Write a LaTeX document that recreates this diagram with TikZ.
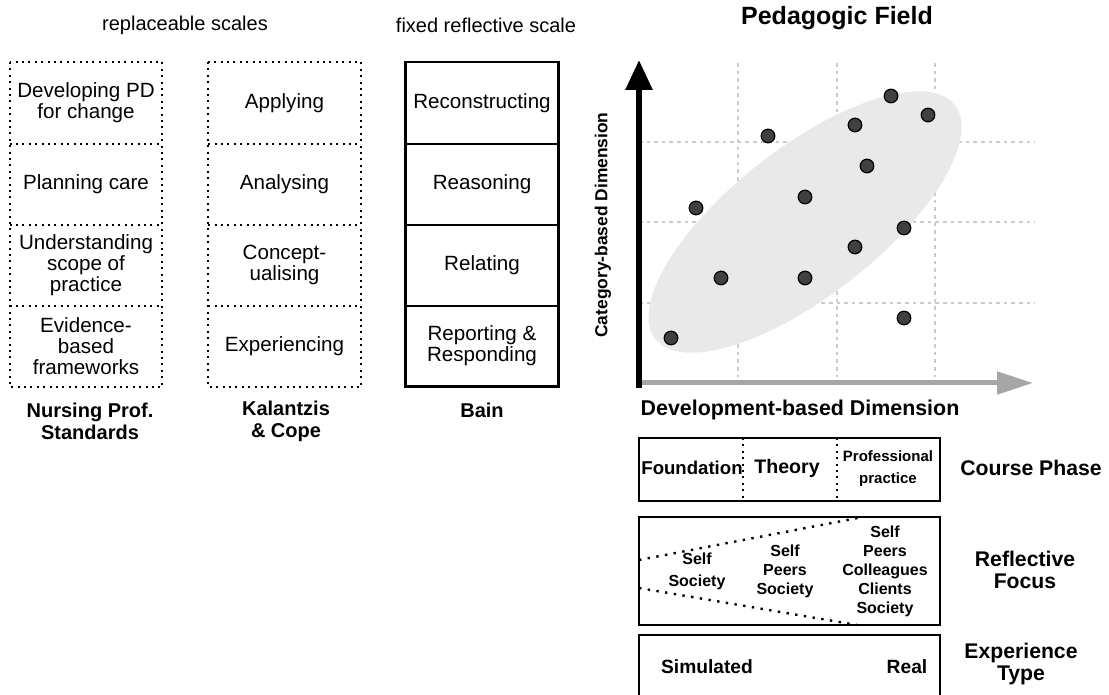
\documentclass[tikz,border=0pt]{standalone}
\usepackage{fontspec}
\setmainfont{Liberation Sans}
\usetikzlibrary{arrows.meta,shapes.geometric}

\begin{document}
\begin{tikzpicture}[x=0.5pt,y=-0.5pt,
    cell/.style={inner sep=0pt,minimum width=76pt,minimum height=40.5pt,align=center,font=\fontsize{10.3}{10.4}\selectfont},
    dotline/.style={line width=1pt,dash pattern=on 1pt off 2.2pt},
    fixedline/.style={line width=1.2pt},
    caption/.style={align=center,font=\fontsize{10}{11}\selectfont\bfseries},
    side/.style={align=center,font=\fontsize{10.6}{11}\selectfont\bfseries},
    band/.style={draw,line width=1.1pt,inner sep=0pt,minimum width=150.5pt},
    bandtext/.style={align=center,inner sep=0pt,font=\fontsize{8}{9.5}\selectfont\bfseries},
    dot/.style={circle,draw=black,fill=black!75,line width=0.6pt,inner sep=0pt,minimum size=6.8pt},
    gridline/.style={gray!40,line width=1pt,dash pattern=on 1.8pt off 2pt}]
  \useasboundingbox (0,0) rectangle (1109,695);
  \draw
    (185,25) node[font=\fontsize{10}{11}\selectfont] (replhead){replaceable scales}
    (486,25) node[font=\fontsize{10}{11}\selectfont] (fixhead){fixed reflective scale};
  \draw
    (86,103) node[cell] (nps1){Developing PD\\for change}
    (86,184) node[cell] (nps2){Planning care}
    (86,265) node[cell] (nps3){Understanding\\scope of\\practice}
    (86,346) node[cell] (nps4){Evidence-\\based\\frameworks}
    (284.5,103) node[cell] (kc1){Applying}
    (284.5,184) node[cell] (kc2){Analysing}
    (284.5,265) node[cell] (kc3){Concept-\\ualising}
    (284.5,346) node[cell] (kc4){Experiencing}
    (482,103) node[cell] (bain1){Reconstructing}
    (482,184) node[cell] (bain2){Reasoning}
    (482,265) node[cell] (bain3){Relating}
    (482,346) node[cell] (bain4){Reporting \&\\Responding};
  \begin{scope}[dotline]
    \draw (nps1.north west) rectangle (nps4.south east);
    \draw (nps1.south west) -- (nps1.south east);
    \draw (nps2.south west) -- (nps2.south east);
    \draw (nps3.south west) -- (nps3.south east);
    \draw (kc1.north west) rectangle (kc4.south east);
    \draw (kc1.south west) -- (kc1.south east);
    \draw (kc2.south west) -- (kc2.south east);
    \draw (kc3.south west) -- (kc3.south east);
  \end{scope}
  \begin{scope}[fixedline]
    \draw[line width=1.4pt] (bain1.north west) rectangle (bain4.south east);
    \draw (bain1.south west) -- (bain1.south east);
    \draw (bain2.south west) -- (bain2.south east);
    \draw (bain3.south west) -- (bain3.south east);
  \end{scope}
  \draw
    (90,421) node[caption] (npscap){Nursing Prof.\\Standards}
    (286,421) node[caption] (kccap){Kalantzis\\\& Cope}
    (482,410) node[caption] (baincap){Bain};
  \node[font=\fontsize{12.5}{13}\selectfont\bfseries] (fieldhead) at (837,18) {Pedagogic Field};
  \draw[gridline]
    (738,63) -- (738,377) (837,63) -- (837,377) (935,63) -- (935,377)
    (639,142) -- (1035,142) (639,222) -- (1035,222) (639,303) -- (1035,303);
  \node[ellipse,fill=gray!17,minimum width=190pt,minimum height=74pt,rotate=38] (cloud) at (805,222) {};
  \coordinate (origin) at (639,383);
  \coordinate (ybase) at (639,388);
  \coordinate (ytip) at (639,60);
  \coordinate (xtip) at (1033,383);
  \draw[gray!70,line width=2.5pt,-{Triangle[length=18pt,width=11pt]}] (origin) -- (xtip);
  \draw[black,line width=3pt,-{Triangle[length=15pt,width=13pt]}] (ybase) -- (ytip);
  \draw
    (891,96) node[dot] (p1){}
    (928,115) node[dot] (p2){}
    (855,125) node[dot] (p3){}
    (768,136) node[dot] (p4){}
    (867,166) node[dot] (p5){}
    (805,197) node[dot] (p6){}
    (696,208) node[dot] (p7){}
    (904,228) node[dot] (p8){}
    (855,247) node[dot] (p9){}
    (721,278) node[dot] (p10){}
    (805,278) node[dot] (p11){}
    (904,318) node[dot] (p12){}
    (671,338) node[dot] (p13){};
  \node[rotate=90,font=\fontsize{8.7}{9}\selectfont\bfseries] (ylab) at (603,225) {Category-based Dimension};
  \node[font=\fontsize{10.7}{11}\selectfont\bfseries] (xlab) at (800,410) {Development-based Dimension};
  % course phase
  \node[band,minimum height=31.5pt] (phase) at (789.5,469.5) {};
  \coordinate (ph1t) at (743,438);
  \coordinate (ph1b) at (743,501);
  \coordinate (ph2t) at (837,438);
  \coordinate (ph2b) at (837,501);
  \draw[dotline] (ph1t) -- (ph1b) (ph2t) -- (ph2b);
  \draw
    (692,468) node[bandtext,font=\fontsize{9.3}{10}\selectfont\bfseries] (found){Foundation}
    (787,468) node[bandtext,font=\fontsize{9.8}{10}\selectfont\bfseries] (theory){Theory}
    (888,469) node[bandtext,font=\fontsize{7.5}{11}\selectfont\bfseries] (prof){Professional\\practice}
    (1031,468) node[side] (phaselab){Course Phase};
  % reflective focus
  \node[band,minimum height=54pt] (focus) at (789.5,571) {};
  \coordinate (fa) at (639,560);
  \coordinate (fb) at (863,517);
  \coordinate (fc) at (639,588);
  \coordinate (fd) at (857,625);
  \draw[line width=1.2pt,dash pattern=on 1.2pt off 3.2pt] (fa) -- (fb) (fc) -- (fd);
  \draw
    (697,571) node[bandtext,font=\fontsize{8}{11}\selectfont\bfseries] (fself){Self\\Society}
    (785,571) node[bandtext] (fpeers){Self\\Peers\\Society}
    (885,571) node[bandtext] (fall){Self\\Peers\\Colleagues\\Clients\\Society}
    (1025,570) node[side] (focuslab){Reflective\\Focus};
  % experience type
  \node[band,minimum height=32pt] (exper) at (789.5,667) {};
  \draw
    (707,667) node[bandtext,font=\fontsize{9.6}{10}\selectfont\bfseries] (sim){Simulated}
    (907,667) node[bandtext,font=\fontsize{9.6}{10}\selectfont\bfseries] (real){Real}
    (1021,664) node[side] (explab){Experience\\Type};
\end{tikzpicture}
\end{document}
